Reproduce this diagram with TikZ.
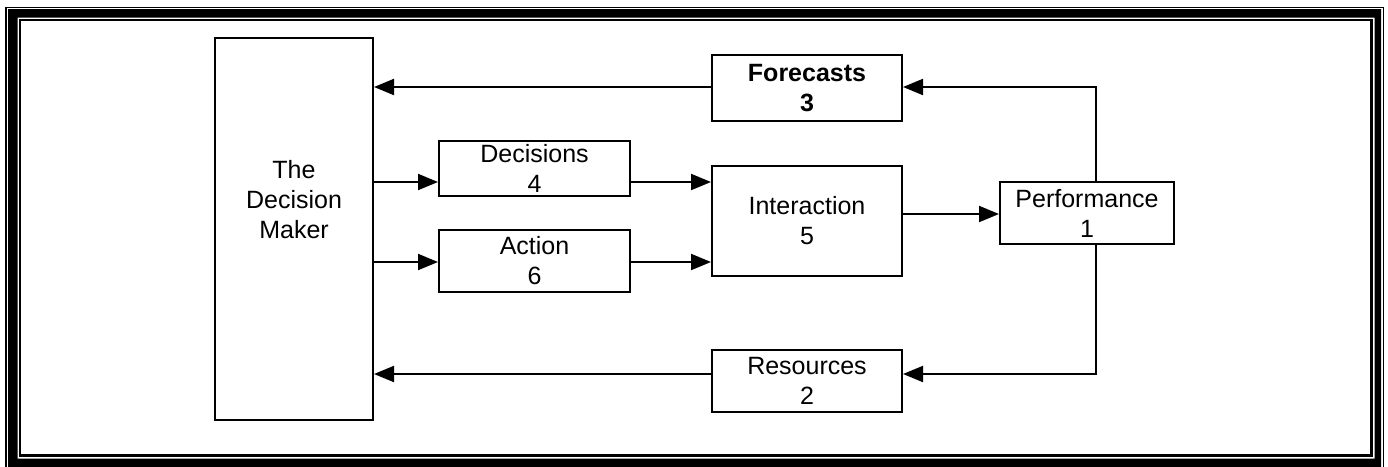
\documentclass[tikz,border=0pt]{standalone}
\usepackage{fontspec}
\setmainfont{Liberation Sans}
\usetikzlibrary{arrows.meta,calc}
\begin{document}
\begin{tikzpicture}[x=1pt,y=-1pt,
  box/.style={draw=black,line width=2pt,rectangle,inner sep=0pt,align=center,
    font=\fontsize{25}{30}\selectfont},
  lbl/.style={inner sep=0pt,align=center,font=\fontsize{25}{30}\selectfont},
  flow/.style={line width=2pt,-{Triangle[length=20pt,width=16pt]}},
  wire/.style={line width=2pt}]
\useasboundingbox (0,0) rectangle (1388,466);
% triple page frame
\draw[line width=1.8pt] (6,7.5) rectangle (1383.5,480);
\fill[even odd rule] (8,9) rectangle (1381,480) (17.5,17.5) rectangle (1374.5,458.5);
\draw[line width=2.5pt] (20,20) rectangle (1371.5,455.5);

% blocks
\node[box,minimum width=158pt,minimum height=382pt] (dm) at (294,229) {};
\node[lbl] (dmtext) at ($(dm.center)+(0,-29)$) {The\\Decision\\Maker};
\node[box,minimum width=190pt,minimum height=66pt,font=\fontsize{25}{30}\selectfont\bfseries] (fc) at (807,88) {Forecasts\\3};
\node[box,minimum width=191pt,minimum height=55pt] (de) at (534.5,168.5) {Decisions\\4};
\node[box,minimum width=191pt,minimum height=62pt] (ac) at (534.5,261) {Action\\6};
\node[box,minimum width=190pt,minimum height=110pt] (in) at (807,221) {Interaction\\5};
\node[box,minimum width=174pt,minimum height=62pt] (pf) at (1087,213) {Performance\\1};
\node[box,minimum width=190pt,minimum height=62pt] (rs) at (807,381) {Resources\\2};

% connector levels
\coordinate (yfc) at (0,87);
\coordinate (yde) at (0,182);
\coordinate (yac) at (0,262);
\coordinate (ypf) at (0,214);
\coordinate (yrs) at (0,374);
\coordinate (xv) at (1096,0);

% connectors
\draw[flow] (dm.east |- yde) -- (de.west |- yde);
\draw[flow] (dm.east |- yac) -- (ac.west |- yac);
\draw[flow] (de.east |- yde) -- (in.west |- yde);
\draw[flow] (ac.east |- yac) -- (in.west |- yac);
\draw[flow] (in.east |- ypf) -- (pf.west |- ypf);
\draw[flow] (xv |- pf.north) -- (xv |- yfc) -- (fc.east |- yfc);
\draw[flow] (fc.west |- yfc) -- (dm.east |- yfc);
\draw[flow] (xv |- pf.south) -- (xv |- yrs) -- (rs.east |- yrs);
\draw[flow] (rs.west |- yrs) -- (dm.east |- yrs);
\end{tikzpicture}
\end{document}
